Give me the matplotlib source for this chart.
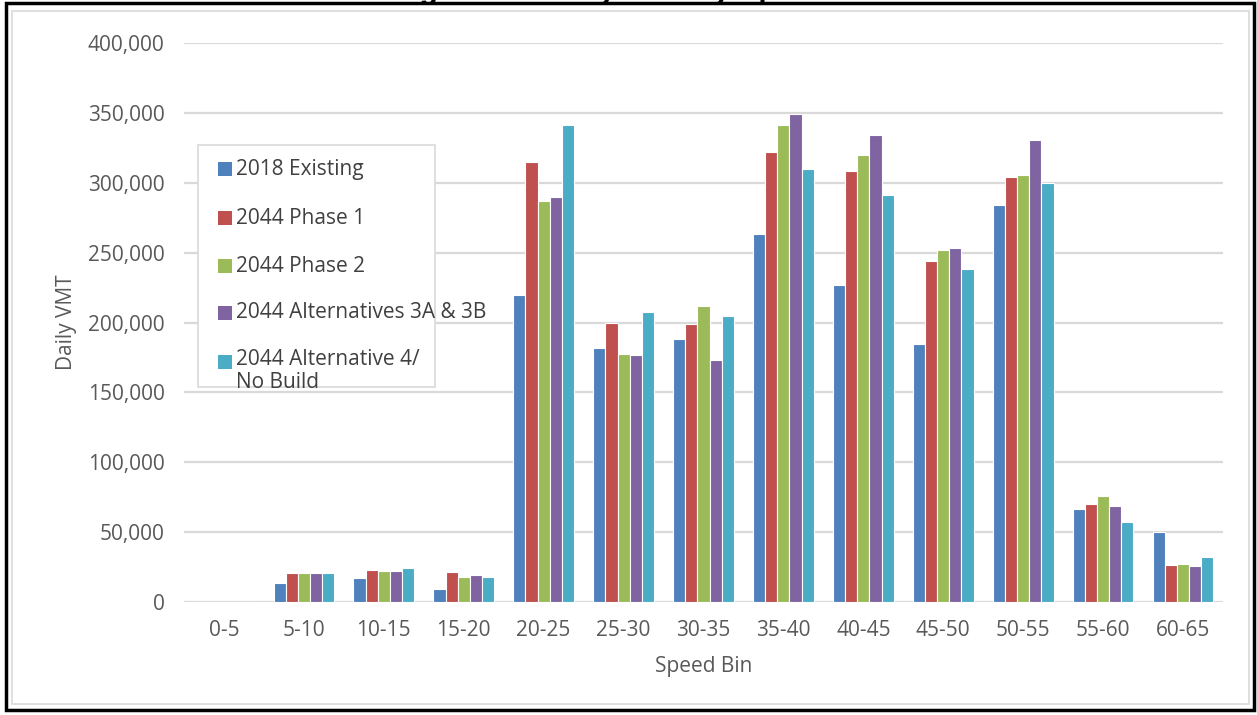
import matplotlib
matplotlib.use("Agg")
import matplotlib.pyplot as plt
from matplotlib.patches import Rectangle
import numpy as np

plt.rcParams["font.family"] = ["Open Sans", "DejaVu Sans"]

# Daily VMT by speed bin
speed_bins = ["0-5", "5-10", "10-15", "15-20", "20-25", "25-30", "30-35",
              "35-40", "40-45", "45-50", "50-55", "55-60", "60-65"]
existing_2018 = [0, 13500, 17000, 9000, 219500, 182000, 188000,
                 263000, 227000, 184500, 284000, 66500, 50000]
phase1_2044 = [0, 21000, 23000, 21500, 315000, 200000, 199000,
               322000, 308500, 244000, 304000, 70000, 26500]
phase2_2044 = [0, 21000, 22000, 18000, 287000, 177500, 212000,
               341000, 320000, 252000, 305500, 75500, 27000]
alt3_2044 = [0, 21000, 22000, 19000, 289500, 177000, 173500,
             349500, 334000, 253500, 330500, 68500, 25500]
alt4_2044 = [0, 21000, 24000, 18000, 341000, 207500, 205000,
             310000, 291500, 238500, 300000, 57500, 32500]

series_names = ["2018 Existing", "2044 Phase 1", "2044 Phase 2",
                "2044 Alternatives 3A & 3B", "2044 Alternative 4/\nNo Build"]
series_vals = [existing_2018, phase1_2044, phase2_2044, alt3_2044, alt4_2044]
colors = ["#4F81BD", "#C0504D", "#9BBB59", "#8064A2", "#4BACC6"]

W, H = 1257, 715
fig = plt.figure(figsize=(W / 100, H / 100), dpi=100)


def fx(px):
    return px / W


def fy(py):
    return 1 - py / H


ax = fig.add_axes([fx(184), fy(602), fx(1223) - fx(184), fy(43) - fy(602)])

x = np.arange(len(speed_bins))
slot = 0.152
for i, (vals, c) in enumerate(zip(series_vals, colors)):
    ax.bar(x + (i - 2) * slot, vals, width=slot, color=c,
           edgecolor="white", linewidth=0.8, zorder=3)

ax.set_xlim(-0.5, len(speed_bins) - 0.5)
ax.set_ylim(0, 400000)
ax.set_yticks(np.arange(0, 400001, 50000))
ax.set_yticklabels([f"{v:,}" for v in range(0, 400001, 50000)])
ax.set_xticks(x)
ax.set_xticklabels(speed_bins)
ax.tick_params(axis="both", length=0, labelsize=15, colors="#595959")
ax.tick_params(axis="y", pad=14)
ax.tick_params(axis="x", pad=13)
ax.grid(axis="y", color="#D9D9D9", linewidth=1.6, zorder=0)
for s in ax.spines.values():
    s.set_visible(False)
ax.set_xlabel("Speed Bin", fontsize=15, color="#595959", labelpad=11)
ax.set_ylabel("Daily VMT", fontsize=15, color="#595959", labelpad=8)

# legend box drawn by hand (text spills past the frame as in the original)
fig.patches.append(Rectangle((fx(198), fy(387)), fx(435) - fx(198), fy(145) - fy(387),
                             transform=fig.transFigure, facecolor="white",
                             edgecolor="#D9D9D9", linewidth=1.2, zorder=5))
entry_y = [169, 218, 266, 313, 362]
for name, c, ey in zip(series_names, colors, entry_y):
    fig.patches.append(Rectangle((fx(218), fy(ey + 7)), fx(14), 14 / H,
                                 transform=fig.transFigure, facecolor=c,
                                 edgecolor="none", zorder=6))
    fig.text(fx(236), fy(ey), name, fontsize=15, color="#404040",
             va="top" if "\n" in name else "center", ha="left", zorder=7,
             linespacing=1.1)
# first line of the two-line entry should sit at entry height
fig.texts[-1].set_y(fy(362 - 13))

# outer frames
fig.patches.append(Rectangle((fx(12), fy(704)), fx(1249) - fx(12), fy(11) - fy(704),
                             transform=fig.transFigure, facecolor="none",
                             edgecolor="#D9D9D9", linewidth=1.2, zorder=1))
fig.patches.append(Rectangle((fx(6), fy(710)), fx(1254) - fx(6), fy(3) - fy(710),
                             transform=fig.transFigure, facecolor="none",
                             edgecolor="black", linewidth=2.5, zorder=8))

# page title, cut off above the picture
fig.text(fx(639), fy(-1), "Figure 10: Daily VMT by Speed Bin", fontsize=21.5,
         fontweight="bold", family=["Liberation Sans", "DejaVu Sans"],
         ha="center", va="baseline", color="black")

fig.savefig("out.png", dpi=100)
